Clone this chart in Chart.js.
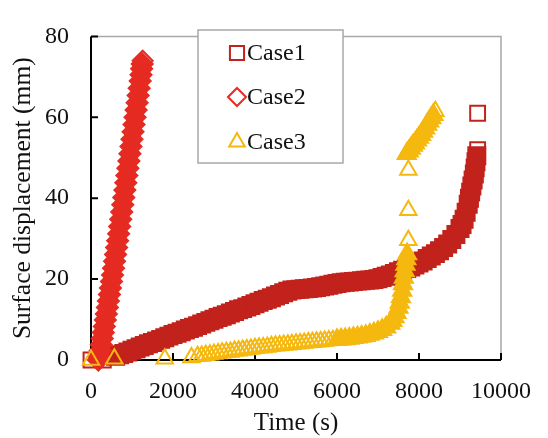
<!DOCTYPE html>
<html>
<head>
<meta charset="utf-8">
<script src="https://cdn.jsdelivr.net/npm/chart.js@4.4.1/dist/chart.umd.min.js"></script>
<style>
  html, body { margin: 0; padding: 0; background: #fff; }
  #wrap { width: 548px; height: 438px; position: relative; }
</style>
</head>
<body>
<div id="wrap"><canvas id="chart" width="548" height="438"></canvas></div>
<script>
// Case1: slow creep, then sharp rise near the end (dense band)
const case1Time = [600, 700, 800, 900, 1000, 1100, 1200, 1300, 1400, 1500, 1600, 1700, 1800, 1900,
  2000, 2100, 2200, 2300, 2400, 2500, 2600, 2700, 2800, 2900, 3000, 3100, 3200, 3300,
  3400, 3500, 3600, 3700, 3800, 3900, 4000, 4100, 4200, 4300, 4400, 4500, 4600, 4700,
  4800, 4900, 5000, 5100, 5200, 5300, 5400, 5500, 5600, 5700, 5800, 5900, 6000, 6100,
  6200, 6300, 6400, 6500, 6600, 6700, 6800, 6900, 7000, 7100, 7200, 7300, 7400, 7500,
  7600, 7700, 7800, 7900, 8000, 8100, 8200, 8300, 8400, 8500, 8600, 8700, 8800, 8900,
  9000, 9050, 9100, 9150, 9200, 9230, 9260, 9290, 9320, 9350, 9370, 9390, 9410];
const case1Disp = [0.9, 1.3, 1.6, 2.0, 2.4, 2.8, 3.2, 3.6, 4.0, 4.3, 4.7, 5.1, 5.5, 5.9,
  6.3, 6.6, 7.0, 7.4, 7.8, 8.1, 8.5, 8.9, 9.3, 9.7, 10.1, 10.5, 10.8, 11.2,
  11.6, 12.0, 12.4, 12.7, 13.1, 13.5, 13.9, 14.3, 14.7, 15.0, 15.4, 15.8, 16.2, 16.6,
  17.0, 17.3, 17.4, 17.5, 17.6, 17.7, 17.8, 17.9, 18.1, 18.3, 18.5, 18.7, 18.9, 19.1,
  19.2, 19.3, 19.4, 19.5, 19.6, 19.7, 19.8, 19.9, 20.1, 20.4, 20.7, 21.0, 21.4, 21.8,
  22.2, 22.6, 23.0, 23.5, 24.0, 24.5, 25.1, 25.7, 26.3, 27.0, 27.8, 28.7, 29.8, 31.0,
  32.5, 33.5, 34.8, 36.5, 38.5, 40.0, 41.5, 43.0, 44.5, 46.0, 47.5, 49.0, 50.5];
// Case1: separate markers
const case1LooseTime = [0, 300, 9430, 9430];
const case1LooseDisp = [0, 0, 52.0, 61.0];

// Case2: fast, almost linear rise
const case2Time = [180, 200, 225, 250, 275, 300, 325, 350, 375, 400, 425, 450, 475,
  500, 525, 550, 575, 600, 625, 650, 675, 700, 725, 750, 775, 800, 825, 850, 875, 900,
  925, 950, 975, 1000, 1025, 1050, 1075, 1100, 1125, 1150, 1175, 1200, 1220, 1235, 1250];
const case2Disp = [0, 0.8, 2.3, 3.8, 5.3, 6.8, 8.3, 9.9, 11.4, 13.0, 14.6, 16.2, 17.8,
  19.4, 21.0, 22.7, 24.4, 26.1, 27.8, 29.5, 31.2, 33.0, 34.8, 36.6, 38.4, 40.2, 42.0, 43.8, 45.6, 47.4,
  49.2, 51.0, 52.8, 54.6, 56.4, 58.2, 60.0, 61.8, 63.6, 65.4, 67.2, 69.0, 70.5, 72.0, 73.2];
const case2LooseTime = [1260];
const case2LooseDisp = [74.0];

// Case3: plateau (open triangles), then a jump near 7700 s (dense band)
const case3LooseTime = [0, 570, 1800, 2450,
  2600, 2700, 2800, 2900, 3000, 3100, 3200, 3300, 3400, 3500, 3600, 3700, 3800, 3900,
  4000, 4100, 4200, 4300, 4400, 4500, 4600, 4700, 4800, 4900, 5000, 5100, 5200, 5300,
  5400, 5500, 5600, 5700, 5800, 5900, 7740, 7740, 7740, 8400];
const case3LooseDisp = [0, 0.3, 0.3, 0.6,
  0.9, 1.0, 1.2, 1.3, 1.5, 1.6, 1.8, 1.9, 2.0, 2.2, 2.3, 2.5, 2.6, 2.7,
  2.9, 3.0, 3.1, 3.2, 3.4, 3.5, 3.6, 3.7, 3.8, 3.9, 4.0, 4.1, 4.2, 4.3,
  4.4, 4.5, 4.6, 4.7, 4.8, 4.9, 29.6, 37.0, 47.0, 61.5];
const case3Time = [6000, 6100, 6200, 6300, 6400, 6500, 6600, 6700,
  6800, 6900, 7000, 7100, 7200, 7300, 7350, 7400, 7450, 7500, 7530, 7560, 7590, 7610,
  7630, 7650, 7670, 7690, 7710,
  7700, 7750, 7800, 7850, 7900, 7950, 8000, 8050, 8100, 8150, 8200, 8250, 8300, 8350];
const case3Disp = [5.0, 5.1, 5.2, 5.3, 5.5, 5.6, 5.8, 6.0,
  6.3, 6.6, 7.0, 7.5, 8.1, 9.0, 9.7, 10.6, 11.7, 13.0, 14.2, 15.6, 17.2, 18.8,
  20.4, 22.0, 23.6, 25.0, 26.2,
  51.0, 51.6, 52.3, 53.0, 53.6, 54.3, 55.0, 55.7, 56.5, 57.3, 58.2, 59.0, 59.8, 60.6];

const caseNames = ['Case1', 'Case2', 'Case3'];
const caseColors = ['#C2221C', '#E52B22', '#F5B80F'];
const caseStyles = ['rect', 'rectRot', 'triangle'];

const xTicks = [0, 2000, 4000, 6000, 8000, 10000];
const yTicks = [0, 20, 40, 60, 80];

const serif = "'Liberation Serif', 'Times New Roman', serif";

function toPoints(xs, ys) {
  return xs.map((x, i) => ({ x: x, y: ys[i] }));
}

// band = filled markers, loose = open markers; later entries draw on top
const layers = [
  { c: 0, pts: toPoints(case1Time, case1Disp), filled: true, r: 12 },
  { c: 0, pts: toPoints(case1LooseTime, case1LooseDisp), filled: false, r: 10.5 },
  { c: 1, pts: toPoints(case2Time, case2Disp), filled: true, r: 10.5 },
  { c: 1, pts: toPoints(case2LooseTime, case2LooseDisp), filled: false, r: 10 },
  { c: 2, pts: toPoints(case3LooseTime, case3LooseDisp), filled: false, r: 9.5 },
  { c: 2, pts: toPoints(case3Time, case3Disp), filled: true, r: 10.5 }
];

// frame: black left/bottom axes, grey top/right border, inward ticks
const framePlugin = {
  id: 'frame',
  beforeDatasetsDraw(chart) {
    const { ctx, chartArea: a, scales } = chart;
    ctx.save();
    ctx.strokeStyle = '#a8a8a8';
    ctx.lineWidth = 1.5;
    ctx.beginPath();
    ctx.moveTo(a.left, a.top);
    ctx.lineTo(a.right, a.top);
    ctx.lineTo(a.right, a.bottom);
    ctx.stroke();

    ctx.strokeStyle = '#000';
    ctx.lineWidth = 2;
    ctx.beginPath();
    ctx.moveTo(a.left, a.top);
    ctx.lineTo(a.left, a.bottom);
    ctx.lineTo(a.right, a.bottom);
    xTicks.forEach(v => {
      const px = scales.x.getPixelForValue(v);
      ctx.moveTo(px, a.bottom);
      ctx.lineTo(px, a.bottom - 7);
    });
    yTicks.forEach(v => {
      const py = scales.y.getPixelForValue(v);
      ctx.moveTo(a.left, py);
      ctx.lineTo(a.left + 7, py);
    });
    ctx.stroke();
    ctx.restore();
  }
};

// boxed legend inside the plot
const legendPlugin = {
  id: 'boxLegend',
  afterDatasetsDraw(chart) {
    const ctx = chart.ctx;
    const box = { x: 198, y: 30, w: 145, h: 133 };
    const rows = [53, 97, 142];
    ctx.save();
    ctx.fillStyle = '#fff';
    ctx.fillRect(box.x, box.y, box.w, box.h);
    ctx.strokeStyle = '#a8a8a8';
    ctx.lineWidth = 1.5;
    ctx.strokeRect(box.x, box.y, box.w, box.h);
    ctx.font = '24px ' + serif;
    ctx.textBaseline = 'middle';
    ctx.textAlign = 'left';
    rows.forEach((ry, i) => {
      ctx.strokeStyle = caseColors[i];
      ctx.fillStyle = 'rgba(0,0,0,0)';
      ctx.lineWidth = 2;
      Chart.helpers.drawPoint(ctx, { pointStyle: caseStyles[i], radius: i === 0 ? 10 : 9, rotation: 0, borderWidth: 2 }, 237, ry);
      ctx.fillStyle = '#111';
      ctx.fillText(caseNames[i], 247, ry + 1);
    });
    ctx.restore();
  }
};

new Chart(document.getElementById('chart'), {
  type: 'scatter',
  data: {
    datasets: layers.map((l, i) => ({
      label: caseNames[l.c],
      data: l.pts,
      pointStyle: caseStyles[l.c],
      pointRadius: l.r,
      pointBorderWidth: 2,
      borderColor: caseColors[l.c],
      backgroundColor: l.filled ? caseColors[l.c] : 'rgba(0,0,0,0)',
      showLine: false,
      clip: false,
      order: layers.length - i
    }))
  },
  options: {
    responsive: false,
    animation: false,
    events: [],
    layout: { padding: { left: 0, top: 20, right: 32, bottom: 0 } },
    plugins: {
      legend: { display: false },
      tooltip: { enabled: false }
    },
    scales: {
      x: {
        type: 'linear',
        min: 0,
        max: 10000,
        grid: { display: false, drawTicks: false },
        border: { display: false },
        ticks: {
          stepSize: 2000,
          padding: 17,
          color: '#111',
          font: { family: serif, size: 24 },
          maxRotation: 0,
          callback: v => String(v)
        },
        title: {
          display: true,
          text: 'Time (s)',
          color: '#111',
          font: { family: serif, size: 25 },
          padding: { top: 0, bottom: 0 }
        },
        afterFit(scale) { scale.height = 78; }
      },
      y: {
        min: 0,
        max: 80,
        grid: { display: false, drawTicks: false },
        border: { display: false },
        ticks: {
          stepSize: 20,
          padding: 22,
          color: '#111',
          font: { family: serif, size: 24 },
          callback: v => String(v)
        },
        title: {
          display: true,
          text: 'Surface displacement (mm)',
          color: '#111',
          font: { family: serif, size: 25.5 },
          padding: { top: 8, bottom: 0 }
        },
        afterFit(scale) { scale.width = 91; }
      }
    }
  },
  plugins: [framePlugin, legendPlugin]
});
</script>
</body>
</html>
